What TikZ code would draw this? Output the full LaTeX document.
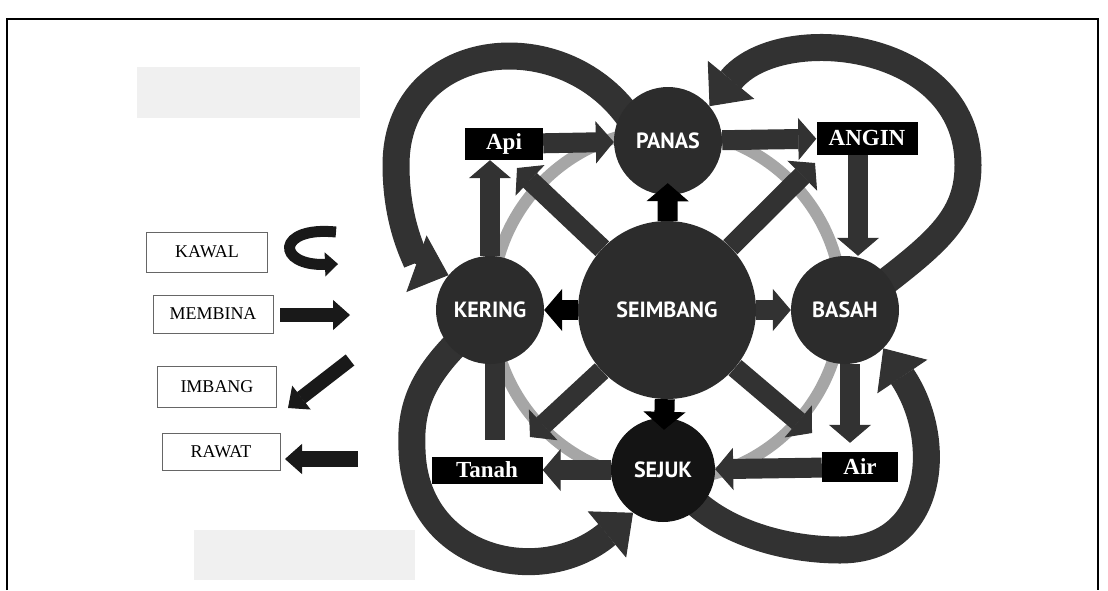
\documentclass[tikz,border=0pt]{standalone}
\usepackage{fontspec}
\setmainfont{Liberation Serif}
\newfontfamily\ballfont{PT Sans}
\usetikzlibrary{arrows.meta,backgrounds}

\definecolor{ballgray}{HTML}{2C2C2C}
\definecolor{bandgray}{HTML}{323232}
\definecolor{ringgray}{HTML}{A6A6A6}
\definecolor{papergray}{HTML}{F0F0F0}

\tikzset{
  ball/.style={circle, fill=ballgray, text=white, inner sep=0pt,
    font=\ballfont\bfseries\fontsize{22}{22}\selectfont},
  blackbox/.style={rectangle, fill=black, text=white, inner sep=0pt,
    font=\bfseries\fontsize{23}{23}\selectfont},
  keybox/.style={rectangle, draw=black!60, line width=0.9pt, inner sep=0pt,
    font=\fontsize{18}{18}\selectfont},
  flowarrow/.style={draw=bandgray, line width=20pt,
    -{Triangle[length=18pt,width=42pt,line width=1pt]}},
  blackarrow/.style={flowarrow, draw=black},
  bigloop/.style={draw=bandgray, line width=27pt, shorten <=-10pt,
    -{Triangle[length=34pt,width=60pt,line width=1pt]}},
  keyarrow/.style={draw=black!90, line width=14pt,
    -{Triangle[length=17pt,width=30pt,line width=1pt]}},
  greyring/.style={draw=ringgray, line width=12pt}
}

\begin{document}
\begin{tikzpicture}[x=1pt,y=1pt]
  \useasboundingbox (0,0) rectangle (1108,-590);
  % frame round the page
  \draw[line width=2pt] (7,-590) -- (7,-19) -- (1098,-19) -- (1098,-590);

  % the five states
  \node[ball, minimum size=178pt] (SEIMBANG) at (667,-310) {SEIMBANG};
  \node[ball, minimum size=108pt] (PANAS) at (668,-141) {PANAS};
  \node[ball, minimum size=108pt] (KERING) at (490,-310) {KERING};
  \node[ball, minimum size=108pt] (BASAH) at (845,-310) {BASAH};
  \node[ball, minimum size=104pt, fill=black!92] (SEJUK) at (663,-470) {SEJUK};

  % black name tags
  \node[blackbox, minimum width=78pt, minimum height=32pt] (Api) at (504,-144) {Api};
  \node[blackbox, minimum width=101pt, minimum height=33pt] (ANGIN) at (867,-138) {ANGIN};
  \node[blackbox, minimum width=111pt, minimum height=27pt] (Tanah) at (487,-470) {Tanah};
  \node[blackbox, minimum width=76pt, minimum height=30pt] (Air) at (860,-467) {Air};

  % legend
  \node[keybox, minimum width=121pt, minimum height=40pt] (KAWAL) at (207,-252) {KAWAL};
  \node[keybox, minimum width=120pt, minimum height=38pt] (MEMBINA) at (213,-314) {MEMBINA};
  \node[keybox, minimum width=119pt, minimum height=41pt] (IMBANG) at (217,-387) {IMBANG};
  \node[keybox, minimum width=118pt, minimum height=37pt] (RAWAT) at (221,-452) {RAWAT};

  % free ends
  \coordinate (ul) at (517,-168);
  \coordinate (ur) at (815,-163);
  \coordinate (ll) at (530,-437);
  \coordinate (lr) at (812,-433);
  \coordinate (kbar) at (495,-440);
  \coordinate (kawalA) at (336,-232);
  \coordinate (kawalB) at (338,-264);
  \coordinate (membinaA) at (280,-315);
  \coordinate (membinaB) at (350,-315);
  \coordinate (imbangA) at (350,-360);
  \coordinate (imbangB) at (288,-408);
  \coordinate (rawatA) at (358,-459);
  \coordinate (rawatB) at (285,-459);

  % legend arrows
  \draw[keyarrow, line width=11pt, -{Triangle[length=13pt,width=24pt,line width=1pt]}]
    (kawalA) .. controls (276,-226) and (276,-266) .. (kawalB);
  \draw[keyarrow] (membinaA) -- (membinaB);
  \draw[keyarrow] (imbangA) -- (imbangB);
  \draw[keyarrow, line width=16pt] (rawatA) -- (rawatB);

  % short arrows from the centre, heads over the balls
  \draw[blackarrow, shorten >=-12pt] (SEIMBANG) -- (PANAS);
  \draw[blackarrow, shorten >=-12pt] (SEIMBANG) -- (SEJUK);

  \begin{scope}[on background layer]
    \fill[papergray] (137,-67) rectangle (360,-118);
    \fill[papergray] (194,-530) rectangle (415,-580);
    \draw[greyring] (667,-305) circle (175);

    % outer loops
    \draw[bigloop] (PANAS.145) .. controls (560,-20) and (396,-40) .. (396,-165)
      .. controls (396,-230) and (420,-265) .. (KERING.140);
    \draw[bigloop] (BASAH.35) .. controls (940,-240) and (968,-215) .. (968,-165)
      .. controls (968,-40) and (780,-20) .. (PANAS.40);
    \draw[bigloop] (SEJUK.-45) .. controls (730,-535) and (790,-550) .. (840,-550)
      .. controls (935,-550) and (945,-440) .. (BASAH.-45);
    \draw[bigloop] (KERING.-135) .. controls (420,-380) and (410,-410) .. (412,-450)
      .. controls (415,-560) and (540,-590) .. (SEJUK.-125);

    % diagonals out of the centre
    \draw[flowarrow] (SEIMBANG) -- (ul);
    \draw[flowarrow] (SEIMBANG) -- (ur);
    \draw[flowarrow] (SEIMBANG) -- (ll);
    \draw[flowarrow] (SEIMBANG) -- (lr);

    % centre to the side states
    \draw[blackarrow] (SEIMBANG) -- (KERING);
    \draw[flowarrow] (SEIMBANG) -- (BASAH);

    % round the ring
    \draw[flowarrow] (Api) -- (PANAS);
    \draw[flowarrow] (PANAS) -- (ANGIN);
    \draw[flowarrow] ([xshift=-9pt]ANGIN.south) -- ([xshift=-9pt]ANGIN.south |- BASAH.north);
    \draw[flowarrow] ([xshift=5pt]BASAH.south) -- ([xshift=5pt,yshift=9pt]BASAH.south |- Air.north);
    \draw[flowarrow] (Air) -- (SEJUK);
    \draw[flowarrow] (SEJUK) -- (Tanah);
    \draw[flowarrow, -] (kbar |- KERING.center) -- (kbar);
    \draw[flowarrow] (KERING.north) -- (KERING.north |- Api.south);
  \end{scope}
\end{tikzpicture}
\end{document}
